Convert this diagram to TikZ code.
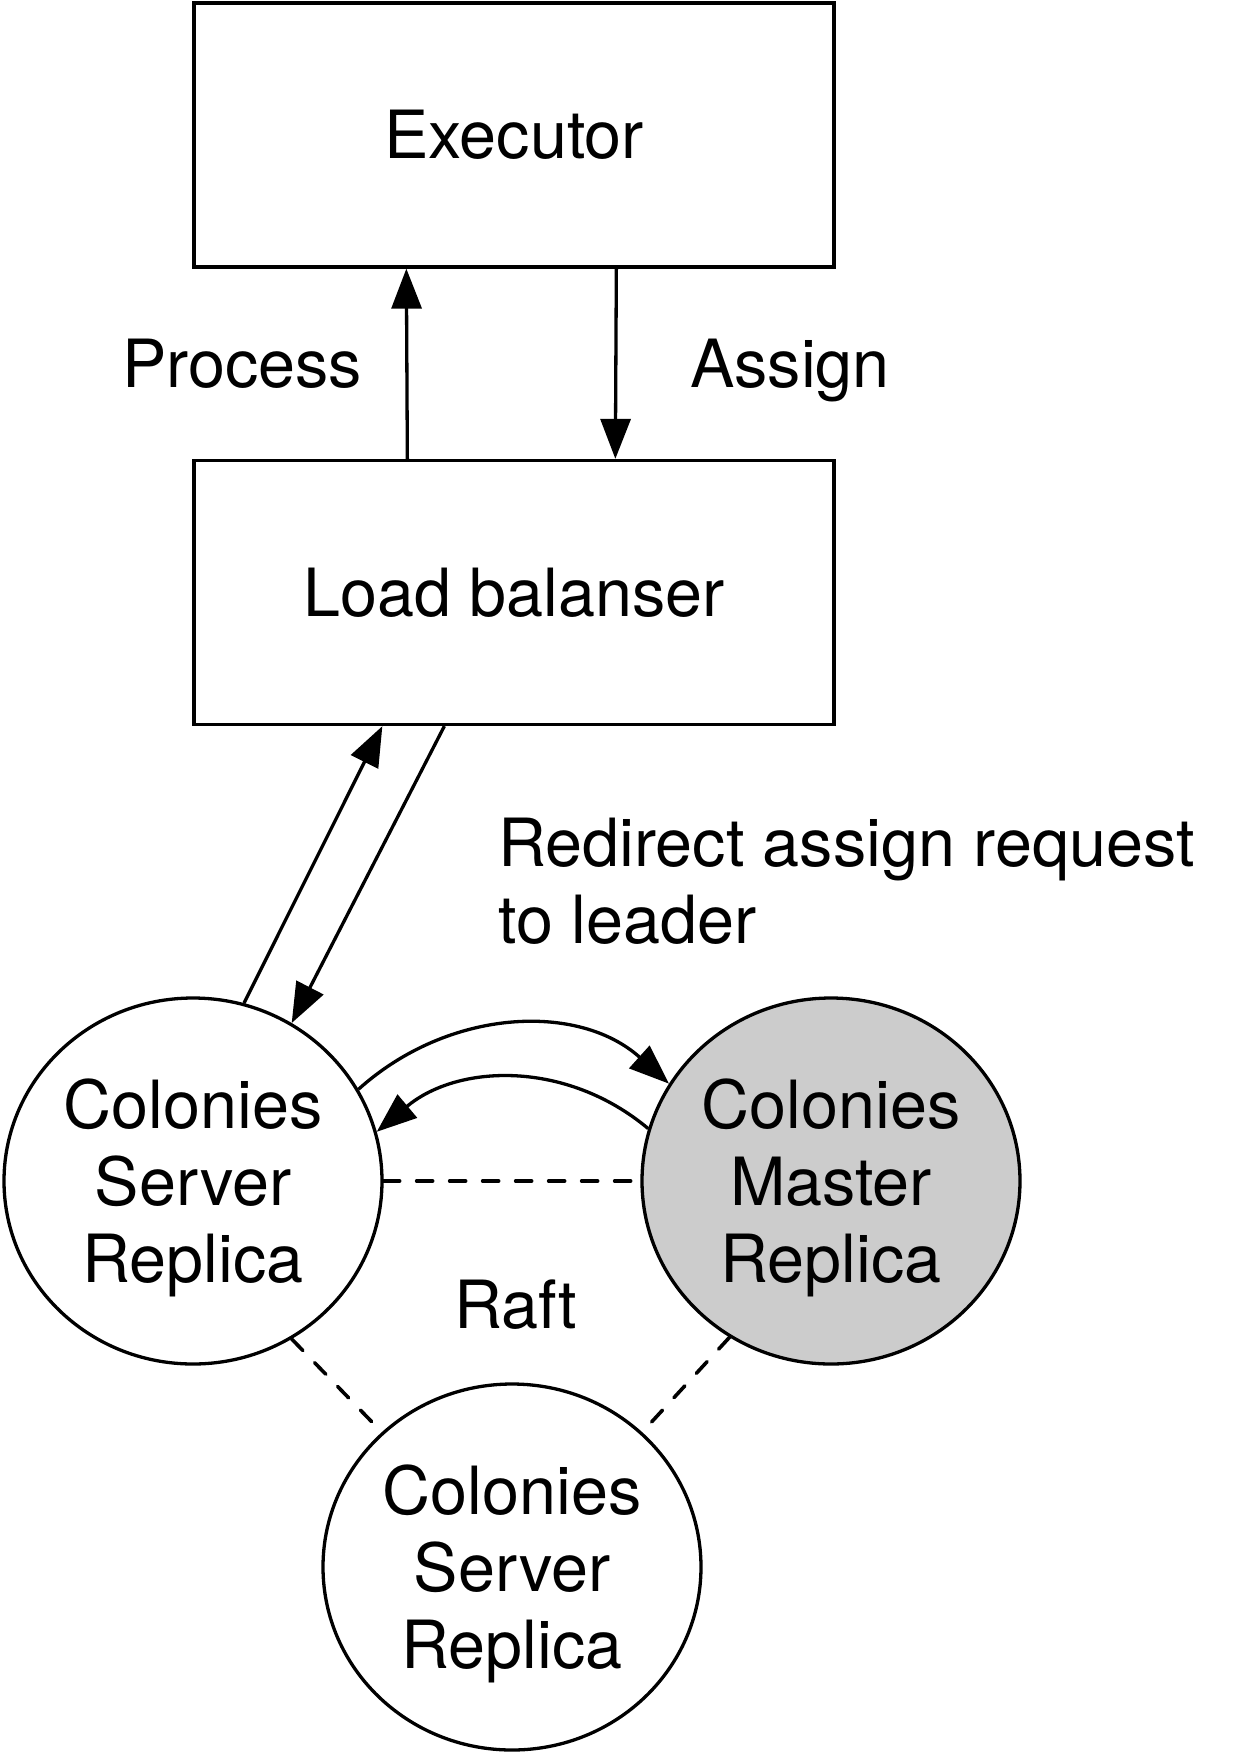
\documentclass[tikz,border=0pt]{standalone}
\usepackage{fontspec}
\setmainfont{TeX Gyre Heros}
\usetikzlibrary{shapes.geometric, arrows.meta}

\definecolor{masterfill}{HTML}{CCCCCC}

\begin{document}
\begin{tikzpicture}[x=1pt, y=-1pt, font=\fontsize{66.5}{77}\selectfont,
	box/.style={draw, line width=3.3pt, minimum width=640pt, minimum height=264pt, inner sep=0pt},
	replica/.style={draw, line width=3.3pt, ellipse, minimum width=378pt, minimum height=366pt, inner sep=0pt, align=center, text depth=0pt},
	lbl/.style={anchor=base west, inner sep=0pt},
	arr/.style={line width=3.3pt, -{Triangle[length=40pt, width=30pt]}},
	raft/.style={line width=3.6pt, line cap=round, dash pattern=on 16pt off 17pt}]
	\useasboundingbox (0,0) rectangle (1241,1754);

	\node[box] (exec) at (514,135) {Executor};
	\node[box] (lb) at (514,592.5) {Load balanser};
	\node[replica] (rep1) at (193,1181) {Colonies\\Server\\Replica};
	\node[replica, fill=masterfill] (master) at (831,1181) {Colonies\\Master\\Replica};
	\node[replica] (rep3) at (512,1567) {Colonies\\Server\\Replica};

	\node[lbl] (process) at (122,387) {Process};
	\node[lbl] (assign) at (690,387) {Assign};
	\node[lbl, align=left] (redirect) at (498,943) {Redirect assign request\\to leader};
	\node[lbl] (raftlbl) at (454,1328) {Raft};

	\draw[arr] ([xshift=215pt]lb.north west) -- ([xshift=214pt]exec.south west);
	\draw[arr] ([xshift=424pt]exec.south west) -- ([xshift=423pt]lb.north west);
	\draw[arr] (rep1.74) -- ([xshift=190pt]lb.south west);
	\draw[arr] ([xshift=252pt]lb.south west) -- (rep1.58);
	\draw[arr] (rep1.29) to[out=42, in=138] (master.149);
	\draw[arr] (master.164) to[out=140, in=40] (rep1.15);

	% raft links
	\draw[raft] (rep1.east) -- (master.west);
	\draw[raft] (rep1.-58) -- (rep3.134);
	\draw[raft] (master.-123) -- (rep3.46);
\end{tikzpicture}
\end{document}
